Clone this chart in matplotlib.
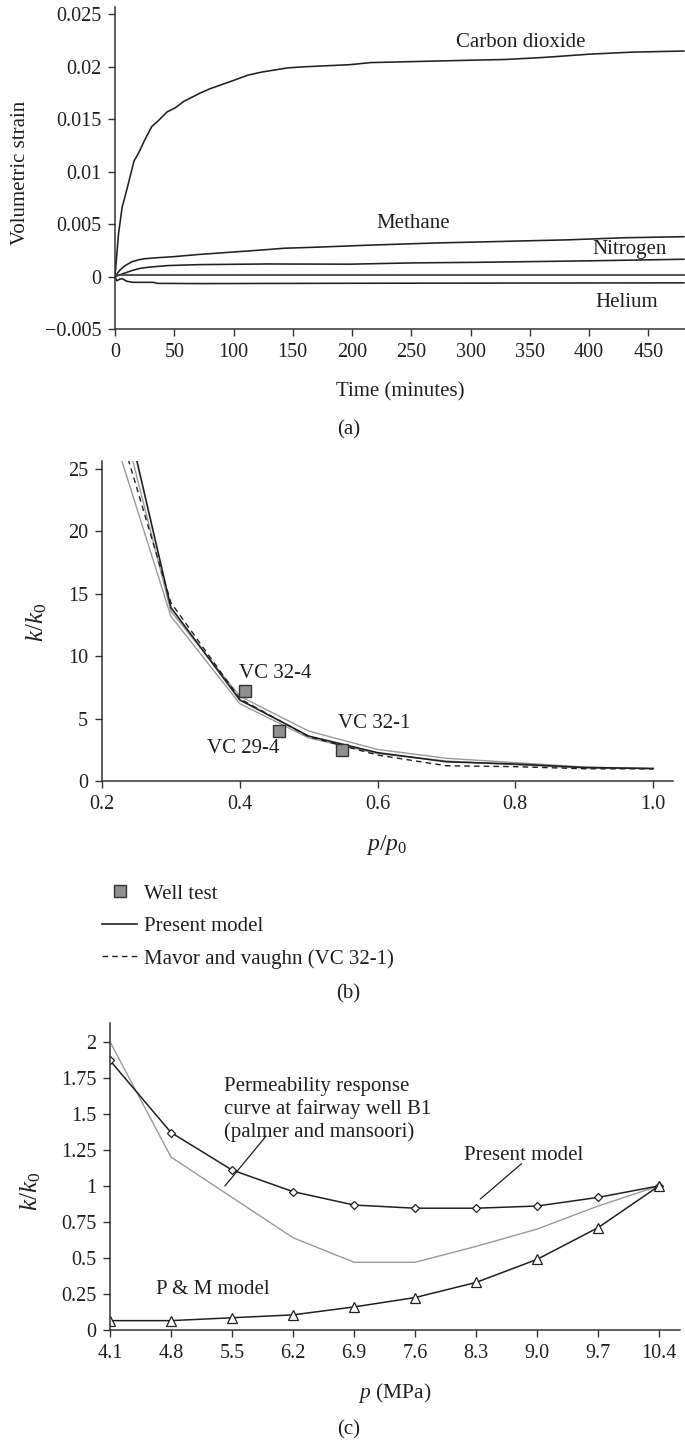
import matplotlib
matplotlib.use("Agg")
import matplotlib.pyplot as plt

# --- (a) volumetric strain vs time ---
co2_t = [0, 3, 6, 10, 16, 20, 25, 31, 36, 44, 51, 58, 65, 72, 80, 90, 100, 112, 124, 135, 146, 160, 179, 198, 216, 253, 290, 330, 363, 400, 437, 480]
co2_v = [0, 0.0041, 0.0066, 0.0083, 0.0110, 0.0118, 0.0130, 0.0143, 0.0148, 0.0157, 0.0161, 0.0167, 0.0171, 0.0175,
         0.0179, 0.0183, 0.0187, 0.0192, 0.0195, 0.0197, 0.0199, 0.0200, 0.0201, 0.0202, 0.0204, 0.0205, 0.0206,
         0.0207, 0.0209, 0.0212, 0.0214, 0.0215]
ch4_t = [0, 4, 8, 14, 20, 25, 36, 50, 70, 95, 120, 143, 170, 216, 270, 308, 382, 430, 480]
ch4_v = [0, 0.0006, 0.0010, 0.0014, 0.0016, 0.0017, 0.0018, 0.0019, 0.0021, 0.0023, 0.0025, 0.0027, 0.0028,
         0.0030, 0.0032, 0.0033, 0.0035, 0.0037, 0.0038]
n2_t = [0, 5, 10, 15, 22, 29, 45, 72, 128, 198, 250, 308, 400, 480]
n2_v = [0, 0.0002, 0.0004, 0.0006, 0.0008, 0.0009, 0.00105, 0.00114, 0.0012, 0.00118, 0.0013, 0.00136, 0.0015, 0.00165]
ref_t = [0, 480]
ref_v = [0.00015, 0.00015]
he_t = [0, 1.5, 4, 6, 10, 15, 32, 36, 72, 200, 480]
he_v = [0, -0.0004, -0.00025, -0.0002, -0.00045, -0.00055, -0.00055, -0.00065, -0.00067, -0.00064, -0.0006]
gas_labels = ["Carbon dioxide", "Methane", "Nitrogen", "Helium"]
gas_label_t = [342, 252, 434, 432]
gas_label_v = [0.0223, 0.0051, 0.0026, -0.0025]

# --- (b) k/k0 vs p/p0 ---
pp0_model = [0.25, 0.3, 0.4, 0.5, 0.6, 0.7, 0.8, 0.9, 1.0]
k_model = [25.8, 13.9, 6.5, 3.6, 2.27, 1.54, 1.36, 1.08, 1.0]
pp0_grey_lo = [0.228, 0.3, 0.4, 0.5, 0.6, 0.7, 0.8, 0.9, 1.0]
k_grey_lo = [25.8, 13.2, 6.2, 3.45, 2.2, 1.6, 1.3, 1.05, 1.0]
pp0_grey_hi = [0.244, 0.3, 0.4, 0.5, 0.6, 0.7, 0.8, 0.9, 1.0]
k_grey_hi = [25.8, 13.6, 6.8, 4.0, 2.53, 1.82, 1.47, 1.12, 1.0]
pp0_mavor = [0.238, 0.3, 0.4, 0.5, 0.6, 0.7, 0.8, 0.9, 1.0]
k_mavor = [25.8, 14.3, 6.6, 3.55, 2.08, 1.22, 1.15, 0.98, 0.97]
well_p = [0.408, 0.457, 0.549]
well_k = [7.2, 4.0, 2.45]
well_names = ["VC 32-4", "VC 29-4", "VC 32-1"]
well_name_p = [0.399, 0.352, 0.542]
well_name_k = [8.64, 2.6, 4.62]

# --- (c) k/k0 vs p (MPa) ---
p_mpa = [4.1, 4.8, 5.5, 6.2, 6.9, 7.6, 8.3, 9.0, 9.7, 10.4]
k_present = [1.87, 1.37, 1.11, 0.96, 0.867, 0.845, 0.845, 0.86, 0.92, 1.0]
k_pm = [0.065, 0.065, 0.085, 0.105, 0.16, 0.225, 0.33, 0.49, 0.71, 1.0]
k_fairway = [2.0, 1.2, 0.92, 0.64, 0.47, 0.47, 0.58, 0.70, 0.86, 1.0]

plt.rcParams['font.family'] = ['Liberation Serif', 'DejaVu Serif']
plt.rcParams['mathtext.fontset'] = 'custom'
plt.rcParams['mathtext.rm'] = 'Liberation Serif'
plt.rcParams['mathtext.it'] = 'Liberation Serif:italic'
fs = 15
tfs = 14.5
ink = '#231f20'
grey = '#9a9a9a'

W, H = 685, 1446
fig = plt.figure(figsize=(W / 100, H / 100), dpi=100)


def make_axes(left, right, top, bottom):
    ax = fig.add_axes([left / W, 1 - bottom / H, (right - left) / W, (bottom - top) / H])
    for s in ['top', 'right']:
        ax.spines[s].set_visible(False)
    for s in ['left', 'bottom']:
        ax.spines[s].set_color('#333333')
        ax.spines[s].set_linewidth(1.1)
    ax.tick_params(direction='out', length=5, width=1.0, color='#333333', labelcolor=ink,
                   pad=5, labelsize=tfs)
    return ax


def place_ylabel(ax, x_px, y_px, left, right, top, bottom):
    ax.yaxis.label.set_va('center')
    ax.yaxis.set_label_coords((x_px - left) / (right - left), (bottom - y_px) / (bottom - top))


# panel (a)
ax = make_axes(115, 685, 7, 329)
ax.plot(co2_t, co2_v, color=ink, lw=1.15)
ax.plot(ch4_t, ch4_v, color=ink, lw=1.15)
ax.plot(n2_t, n2_v, color=ink, lw=1.15)
ax.plot(ref_t, ref_v, color='#444444', lw=1.3)
ax.plot(he_t, he_v, color=ink, lw=1.15)
for lab, tx, ty in zip(gas_labels, gas_label_t, gas_label_v):
    ax.text(tx, ty, lab, ha='center', va='center', color=ink, fontsize=fs)
ax.set_xlim(0, 481)
ax.set_ylim(-0.005, 0.0257)
ax.set_xticks(range(0, 451, 50))
ax.set_yticks([-0.005, 0, 0.005, 0.01, 0.015, 0.02, 0.025])
ax.set_yticklabels(['\u22120.005', '0', '0.005', '0.01', '0.015', '0.02', '0.025'])
ax.set_ylabel('Volumetric strain', color=ink, fontsize=fs)
place_ylabel(ax, 21, 173, 115, 685, 7, 329)
fig.text(400 / W, 1 - 392 / H, 'Time (minutes)', ha='center', va='center', color=ink, fontsize=fs)
fig.text(349 / W, 1 - 430 / H, '(a)', ha='center', va='center', color=ink, fontsize=fs)

# panel (b)
ax = make_axes(102, 673, 461, 781)
ax.plot(pp0_grey_lo, k_grey_lo, color=grey, lw=1.0)
ax.plot(pp0_grey_hi, k_grey_hi, color=grey, lw=1.0)
h_mavor, = ax.plot(pp0_mavor, k_mavor, color=ink, lw=1.0, dashes=(4, 3),
                   label='Mavor and vaughn (VC 32-1)')
h_model, = ax.plot(pp0_model, k_model, color=ink, lw=1.2, label='Present model')
h_well, = ax.plot(well_p, well_k, 's', ms=8.3, mfc='#8f8f8f', mec='#333333', mew=1.0,
                  linestyle='none', label='Well test')
for lab, tx, ty in zip(well_names, well_name_p, well_name_k):
    ax.text(tx, ty, lab, ha='left', va='center', color=ink, fontsize=fs)
ax.set_xlim(0.2, 1.029)
ax.set_ylim(0, 25.64)
ax.set_xticks([0.2, 0.4, 0.6, 0.8, 1.0])
ax.set_xticklabels(['0.2', '0.4', '0.6', '0.8', '1.0'])
ax.set_yticks(range(0, 26, 5))
ax.set_ylabel(r'$k/k_0$', color=ink, fontsize=18)
place_ylabel(ax, 37, 622, 102, 673, 461, 781)
fig.text(387 / W, 1 - 845 / H, r'$p/p_0$', ha='center', va='center', color=ink, fontsize=17)
leg = ax.legend(handles=[h_well, h_model, h_mavor], loc='upper left',
                bbox_to_anchor=(102 / W, 1 - 884 / H), bbox_transform=fig.transFigure,
                frameon=False, handlelength=1.68, handletextpad=0.34, labelspacing=0.62,
                borderpad=0, borderaxespad=0, numpoints=1, fontsize=fs)
for t in leg.get_texts():
    t.set_color(ink)
fig.text(348 / W, 1 - 994 / H, '(b)', ha='center', va='center', color=ink, fontsize=fs)

# panel (c)
ax = make_axes(110, 680, 1023, 1330)
ax.plot(p_mpa, k_fairway, color=grey, lw=1.0)
ax.plot(p_mpa, k_present, color=ink, lw=1.1, marker='D', ms=4.2, mfc='white', mec=ink, mew=0.9)
ax.plot(p_mpa, k_pm, color=ink, lw=1.1, marker='^', ms=7, mfc='white', mec=ink, mew=0.9)
ax.text(5.41, 1.53, 'Permeability response\ncurve at fairway well B1\n(palmer and mansoori)',
        ha='left', va='center', color=ink, linespacing=1.2, fontsize=fs)
ax.plot([5.89, 5.42], [1.345, 1.0], color=ink, lw=0.9)
ax.text(8.85, 1.21, 'Present model', ha='center', va='center', color=ink, fontsize=fs)
ax.plot([8.82, 8.35], [1.153, 0.909], color=ink, lw=0.9)
ax.text(5.28, 0.28, 'P & M model', ha='center', va='center', color=ink, fontsize=fs)
ax.set_xlim(4.1, 10.64)
ax.set_ylim(0, 2.13)
ax.set_xticks(p_mpa)
ax.set_xticklabels(['%.1f' % v for v in p_mpa])
ax.set_yticks([0, 0.25, 0.5, 0.75, 1, 1.25, 1.5, 1.75, 2])
ax.set_yticklabels(['0', '0.25', '0.5', '0.75', '1', '1.25', '1.5', '1.75', '2'])
ax.set_ylabel(r'$k/k_0$', color=ink, fontsize=18)
place_ylabel(ax, 31, 1191, 110, 680, 1023, 1330)
fig.text(395 / W, 1 - 1393 / H, r'$p$ (MPa)', ha='center', va='center', color=ink, fontsize=15.5)
fig.text(349 / W, 1 - 1430 / H, '(c)', ha='center', va='center', color=ink, fontsize=fs)

fig.savefig('out.png', dpi=100)
